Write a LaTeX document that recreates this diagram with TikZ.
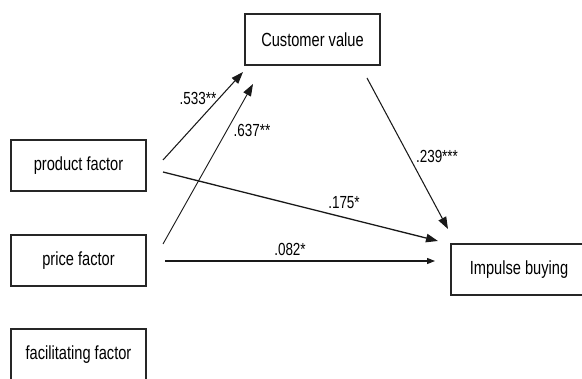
\documentclass[tikz,border=0pt]{standalone}
\usepackage{fontspec}
\setmainfont[FakeStretch=0.77]{Liberation Sans}
\usetikzlibrary{arrows.meta}
\begin{document}
\begin{tikzpicture}[x=1pt,y=-1pt,
  factorbox/.style={draw=black!85,line width=1.15pt,minimum width=135pt,minimum height=51pt,inner sep=0pt,font=\fontsize{19}{19}\selectfont},
  path/.style={draw=black!90,line width=1.05pt,-{Triangle[length=12pt,width=8.5pt]}},
  coef/.style={inner sep=0pt,font=\fontsize{17.5}{17.5}\selectfont}]
\useasboundingbox (0,0) rectangle (582,379);
\clip (0,0) rectangle (582,379);

% constructs
\node[factorbox] (cv)   at (312.5,39.5)  {Customer value};
\node[factorbox] (prod) at (78.5,165.5)  {product factor};
\node[factorbox] (pric) at (78.5,260.5)  {price factor};
\node[factorbox] (faci) at (78.5,354.5)  {facilitating factor};
\node[factorbox,minimum width=136pt] (imp) at (519,269.5) {Impulse buying};

% arrow end points, set off from the boxes
\coordinate (prodA) at (163,160);
\coordinate (prodB) at (163,172);
\coordinate (pricA) at (163,244);
\coordinate (pricB) at (165,261);
\coordinate (cvA)   at (243,72);
\coordinate (cvB)   at (253,84);
\coordinate (cvOut) at (367,78);
\coordinate (impA)  at (448,229);
\coordinate (impB)  at (438,241);
\coordinate (impC)  at (435,261);

% paths
\draw[path] (prodA) -- (cvA);
\draw[path,line width=0.9pt] (pricA) -- (cvB);
\draw[path,line width=1.3pt] (prodB) -- (impB);
\draw[path,-{Triangle[length=8pt,width=6pt]}] (pricB) -- (impC);
\draw[path] (cvOut) -- (impA);

% path coefficients
\node[coef] (c1) at (198,98)  {.533**};
\node[coef] (c2) at (252,130) {.637**};
\node[coef] (c3) at (437,156) {.239***};
\node[coef] (c4) at (344,203) {.175*};
\node[coef] (c5) at (290,249) {.082*};
\end{tikzpicture}
\end{document}
